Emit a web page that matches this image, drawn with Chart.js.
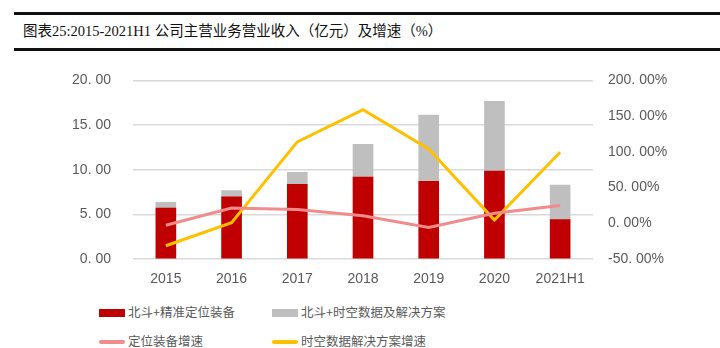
<!DOCTYPE html>
<html>
<head>
<meta charset="utf-8">
<script src="https://cdn.jsdelivr.net/npm/chart.js@4.4.1/dist/chart.umd.min.js"></script>
<style>
  body { margin: 0; width: 720px; height: 348px; background: #fff; position: relative; overflow: hidden; font-family: "Liberation Sans", "Noto Sans CJK SC", sans-serif; }
  #title { position: absolute; left: 14px; right: 0; top: 12px; height: 33px; border-top: 3px solid #111; border-bottom: 3px solid #111;
           font-family: "Liberation Serif", "Noto Sans CJK SC", serif; font-size: 14.5px; color: #111; line-height: 33px; padding-left: 9px; }
  #wrap { position: absolute; left: 0; top: 50px; width: 720px; height: 240px; }
  .lg { position: absolute; font-family: "Noto Sans CJK SC", sans-serif; font-size: 12.5px; color: #595959; line-height: 16px; white-space: nowrap; }
  .lg i { display: inline-block; width: 26px; vertical-align: middle; margin-right: 3px; position: relative; top: -1px; }
</style>
</head>
<body>
<div id="title">图表25:2015-2021H1 公司主营业务营业收入（亿元）及增速（%）</div>
<div id="wrap"><canvas id="chart"></canvas></div>
<div id="legend"></div>
<script>
// categories
const years = ['2015', '2016', '2017', '2018', '2019', '2020', '2021H1'];
// 北斗+精准定位装备 (亿元)
const equipRevenue = [5.71, 6.95, 8.36, 9.17, 8.71, 9.84, 4.41];
// 北斗+时空数据及解决方案 (亿元)
const dataRevenue = [0.64, 0.70, 1.34, 3.67, 7.41, 7.83, 3.88];
// 定位装备增速 (%)
const equipGrowth = [-2.8, 21.4, 19.2, 10.4, -5.9, 13.9, 25.0];
// 时空数据解决方案增速 (%)
const dataGrowth = [-31.5, 0.7, 114, 159, 104, 4.6, 99.5];

const tickColor = '#595959';
const gridColor = '#d9d9d9';

const chart = new Chart(document.getElementById('chart'), {
    type: 'bar',
    data: {
        labels: years,
        datasets: [
            { type: 'line', label: '定位装备增速', data: equipGrowth, yAxisID: 'y1', borderColor: '#F08C8C', backgroundColor: '#F08C8C',
              borderWidth: 3, pointRadius: 0, fill: false, tension: 0, order: 0 },
            { type: 'line', label: '时空数据解决方案增速', data: dataGrowth, yAxisID: 'y1', borderColor: '#FFC000', backgroundColor: '#FFC000',
              borderWidth: 3, pointRadius: 0, fill: false, tension: 0, order: 0 },
            { label: '北斗+精准定位装备', data: equipRevenue, backgroundColor: '#C00000', stack: 's', barThickness: 20, order: 1 },
            { label: '北斗+时空数据及解决方案', data: dataRevenue, backgroundColor: '#BFBFBF', stack: 's', barThickness: 20, order: 1 }
        ]
    },
    options: {
        responsive: true,
        maintainAspectRatio: false,
        animation: false,
        layout: { padding: { top: 20, left: 0, right: 0, bottom: 0 } },
        plugins: { legend: { display: false }, tooltip: { enabled: false } },
        scales: {
            x: {
                stacked: true,
                grid: { display: false },
                border: { display: false },
                ticks: { color: tickColor, font: { size: 14, family: 'Liberation Sans' }, padding: 4 },
                afterFit: s => { s.height = 31; }
            },
            y: {
                stacked: true,
                position: 'left',
                min: 0, max: 20,
                ticks: { stepSize: 5, color: tickColor, font: { size: 14, family: 'Liberation Sans' }, padding: 22,
                         callback: v => v.toFixed(2).replace('.', '. ') },
                grid: { color: gridColor, lineWidth: 1.5, drawTicks: false },
                border: { display: false },
                afterFit: s => { s.width = 133; }
            },
            y1: {
                position: 'right',
                min: -50, max: 200,
                ticks: { stepSize: 50, color: tickColor, font: { size: 14, family: 'Liberation Sans' }, padding: 15,
                         callback: v => v.toFixed(2).replace('.', '. ') + '%' },
                grid: { display: false, drawTicks: false },
                border: { display: false },
                afterFit: s => { s.width = 127; }
            }
        }
    }
});

// legend in two columns, built from the chart's datasets
const legendPos = {
    '北斗+精准定位装备': [99, 304],
    '北斗+时空数据及解决方案': [272, 304],
    '定位装备增速': [99, 333],
    '时空数据解决方案增速': [272, 333]
};
const lg = document.getElementById('legend');
chart.data.datasets.forEach(ds => {
    const p = legendPos[ds.label];
    const el = document.createElement('div');
    el.className = 'lg';
    el.style.left = p[0] + 'px';
    el.style.top = p[1] + 'px';
    const isLine = ds.type === 'line';
    const sw = '<i style="height:' + (isLine ? 4 : 8) + 'px;background:' + (isLine ? ds.borderColor : ds.backgroundColor) +
               ';border-radius:' + (isLine ? 2 : 0) + 'px"></i>';
    el.innerHTML = sw + ds.label;
    lg.appendChild(el);
});
</script>
</body>
</html>
